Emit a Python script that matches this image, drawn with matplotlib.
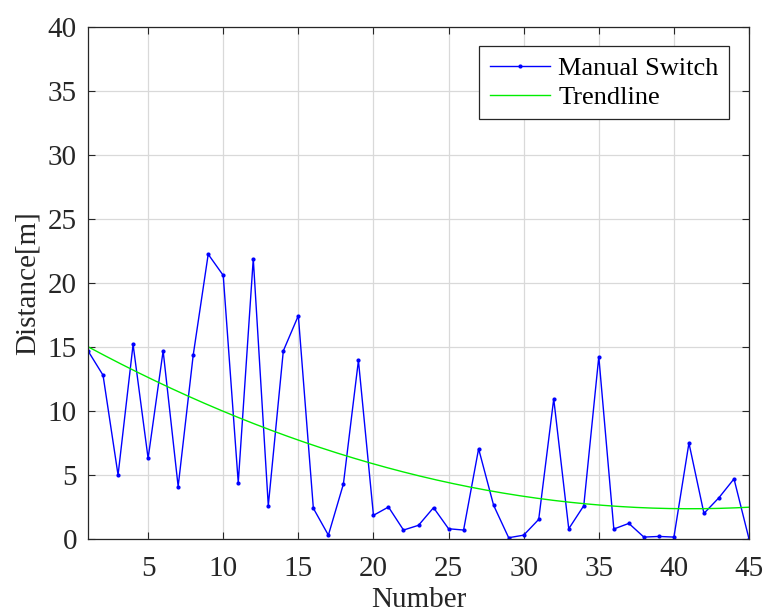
import numpy as np
import matplotlib
matplotlib.use("Agg")
import matplotlib.pyplot as plt

plt.rcParams['font.family'] = ['Liberation Serif', 'DejaVu Serif']

number = list(range(1, 46))
distance = [14.7, 12.8, 5.0, 15.2, 6.3, 14.7, 4.1, 14.35, 22.25, 20.6,
            4.4, 21.9, 2.6, 14.7, 17.45, 2.4, 0.3, 4.3, 13.95, 1.85,
            2.5, 0.7, 1.07, 2.45, 0.8, 0.7, 7.05, 2.63, 0.1, 0.3,
            1.53, 10.95, 0.8, 2.6, 14.25, 0.78, 1.22, 0.15, 0.2, 0.15,
            7.5, 2.0, 3.23, 4.7, 0.0]
xticks = [5, 10, 15, 20, 25, 30, 35, 40, 45]
yticks = [0, 5, 10, 15, 20, 25, 30, 35, 40]

x = np.array(number, dtype=float)
y = np.array(distance)
coef = np.polyfit(x, y, 2)
xs = np.linspace(1, 45, 200)
trend = np.polyval(coef, xs)

fig = plt.figure(figsize=(7.68, 6.16), dpi=100)
ax = fig.add_axes([0.1146, 0.125, 0.8607, 0.831])
ax.plot(x, y, color='#0000ff', lw=1.0, marker='.', markersize=4, label='Manual Switch')
ax.plot(xs, trend, color='#00ee00', lw=1.0, label='Trendline')
ax.set_xlim(1, 45)
ax.set_ylim(0, 40)
ax.set_xticks(xticks)
ax.set_yticks(yticks)
ax.grid(True, color='#d9d9d9', lw=0.9)
ax.set_axisbelow(True)
ax.tick_params(direction='in', top=True, right=True, labelsize=21, length=5,
               color='#262626', labelcolor='#262626', width=0.8)
ax.tick_params(axis='x', pad=12)
ax.tick_params(axis='y', pad=8)
for s in ax.spines.values():
    s.set_color('#262626')
    s.set_linewidth(0.9)
ax.set_xlabel('Number', fontsize=21, color='#262626', labelpad=4)
ax.set_ylabel('Distance[m]', fontsize=21, color='#262626', labelpad=5)
leg = ax.legend(loc='upper right', fontsize=19, frameon=True, fancybox=False,
                edgecolor='#262626', framealpha=1, borderpad=0.4,
                handlelength=2.3, handletextpad=0.3, labelspacing=0.2,
                borderaxespad=0, bbox_to_anchor=(0.97, 0.963))
leg.get_frame().set_linewidth(0.9)
fig.savefig('out.png', dpi=100)
